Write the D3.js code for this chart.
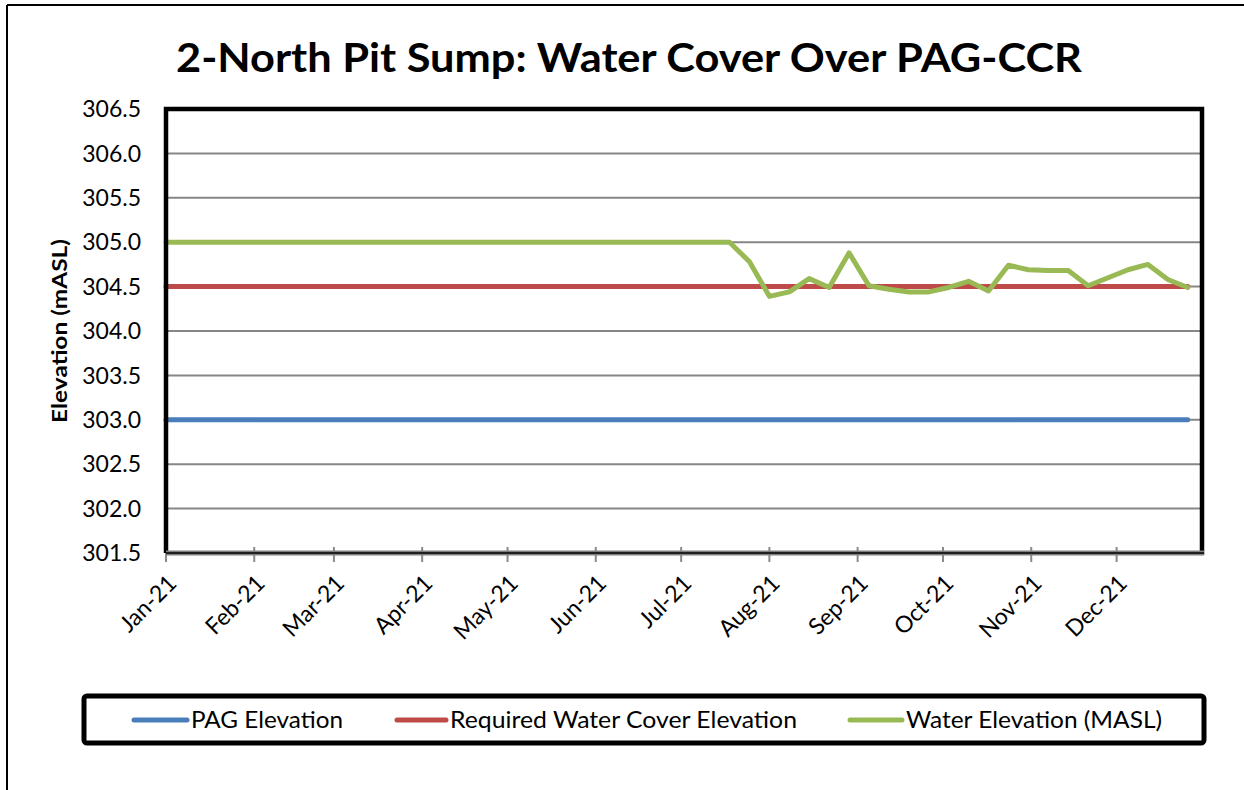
<!DOCTYPE html>
<html>
<head>
<meta charset="utf-8">
<script src="https://cdn.jsdelivr.net/npm/d3@7"></script>
<style>
  html, body { margin: 0; padding: 0; background: #fff; }
  svg { display: block; font-family: Lato, "Open Sans", sans-serif; }
</style>
</head>
<body>
<svg id="chart" width="1244" height="790"></svg>
<script>
// ---- data ----
const title = "2-North Pit Sump: Water Cover Over PAG-CCR";
const yAxisTitle = "Elevation (mASL)";
const yTicks = [301.5, 302.0, 302.5, 303.0, 303.5, 304.0, 304.5, 305.0, 305.5, 306.0, 306.5];
const monthTicks = ["2021-01-01","2021-02-01","2021-03-01","2021-04-01","2021-05-01","2021-06-01",
                    "2021-07-01","2021-08-01","2021-09-01","2021-10-01","2021-11-01","2021-12-01"];
const seriesNames = ["PAG Elevation", "Required Water Cover Elevation", "Water Elevation (MASL)"];
const pagDates = ["2021-01-01", "2021-12-26"];
const pagValues = [303.0, 303.0];
const reqDates = ["2021-01-01", "2021-12-26"];
const reqValues = [304.5, 304.5];
const waterDates = ["2021-01-01","2021-07-18","2021-07-25","2021-08-01","2021-08-08","2021-08-15",
  "2021-08-22","2021-08-29","2021-09-05","2021-09-12","2021-09-19","2021-09-26","2021-10-03",
  "2021-10-10","2021-10-17","2021-10-24","2021-10-31","2021-11-07","2021-11-14","2021-11-21",
  "2021-11-28","2021-12-05","2021-12-12","2021-12-19","2021-12-26"];
const waterValues = [305.0,305.0,304.78,304.39,304.44,304.59,
  304.49,304.88,304.51,304.47,304.44,304.44,304.49,
  304.56,304.45,304.74,304.69,304.68,304.68,304.51,
  304.60,304.69,304.75,304.58,304.49];
const colors = ["#4a7ebb", "#be4b48", "#98b954"];

// ---- layout ----
const svg = d3.select("#chart");
const parse = d3.timeParse("%Y-%m-%d");
const plot = {left: 166, right: 1202, top: 109, bottom: 553};

const x = d3.scaleTime()
  .domain([parse("2021-01-01"), parse("2021-12-31")])
  .range([plot.left, plot.right]);
const y = d3.scaleLinear()
  .domain([301.5, 306.5])
  .range([plot.bottom, plot.top]);

// outer chart border (top + left visible)
svg.append("line").attr("x1", 7).attr("y1", 5).attr("x2", 1244).attr("y2", 5)
  .attr("stroke", "#000").attr("stroke-width", 2);
svg.append("line").attr("x1", 7).attr("y1", 5).attr("x2", 7).attr("y2", 790)
  .attr("stroke", "#000").attr("stroke-width", 2);

// title
svg.append("text")
  .attr("x", 629).attr("y", 72)
  .attr("text-anchor", "middle")
  .attr("font-size", 40).attr("font-weight", "bold")
  .attr("textLength", 906).attr("lengthAdjust", "spacingAndGlyphs")
  .attr("fill", "#000")
  .text(title);

// gridlines
svg.append("g").selectAll("line")
  .data(yTicks.filter(v => v > 301.5 && v < 306.5))
  .join("line")
  .attr("x1", plot.left).attr("x2", plot.right)
  .attr("y1", d => y(d)).attr("y2", d => y(d))
  .attr("stroke", "#868686").attr("stroke-width", 2);

// y tick labels
svg.append("g").selectAll("text")
  .data(yTicks)
  .join("text")
  .attr("x", 141).attr("y", d => y(d))
  .attr("dy", "0.36em")
  .attr("text-anchor", "end")
  .attr("font-size", 23)
  .attr("fill", "#000")
  .text(d => d3.format(".1f")(d));

// y axis title
svg.append("text")
  .attr("transform", `translate(67, ${(plot.top + plot.bottom) / 2}) rotate(-90)`)
  .attr("text-anchor", "middle")
  .attr("font-size", 21).attr("font-weight", "bold")
  .attr("textLength", 184).attr("lengthAdjust", "spacingAndGlyphs")
  .attr("fill", "#000")
  .text(yAxisTitle);

// x ticks
const tickDates = monthTicks.map(parse);
svg.append("g").selectAll("line")
  .data(tickDates)
  .join("line")
  .attr("x1", d => x(d)).attr("x2", d => x(d))
  .attr("y1", plot.bottom - 6).attr("y2", plot.bottom + 9)
  .attr("stroke", "#8a8a8a").attr("stroke-width", 2);

// x tick labels
const fmt = d3.timeFormat("%b-%y");
svg.append("g").selectAll("text")
  .data(tickDates)
  .join("text")
  .attr("transform", d => `translate(${x(d) + 6}, ${plot.bottom + 26}) rotate(-45)`)
  .attr("text-anchor", "end")
  .attr("dy", "0.36em")
  .attr("font-size", 23)
  .attr("fill", "#000")
  .text(d => fmt(d));

// series lines
const line = d3.line().x(d => x(d[0])).y(d => y(d[1]));
const series = [
  pagDates.map((d, i) => [parse(d), pagValues[i]]),
  reqDates.map((d, i) => [parse(d), reqValues[i]]),
  waterDates.map((d, i) => [parse(d), waterValues[i]])
];
svg.append("g").selectAll("path")
  .data(series)
  .join("path")
  .attr("d", line)
  .attr("fill", "none")
  .attr("stroke", (d, i) => colors[i])
  .attr("stroke-width", 5)
  .attr("stroke-linejoin", "round")
  .attr("stroke-linecap", "round");

// plot frame: left, top, right in thick black; bottom as axis line
svg.append("path")
  .attr("d", `M${plot.left},${plot.bottom} L${plot.left},${plot.top} L${plot.right},${plot.top} L${plot.right},${plot.bottom + 2}`)
  .attr("fill", "none").attr("stroke", "#000").attr("stroke-width", 4.5);
svg.append("line")
  .attr("x1", plot.left).attr("x2", plot.right + 2)
  .attr("y1", plot.bottom).attr("y2", plot.bottom)
  .attr("stroke", "#7f7f7f").attr("stroke-width", 5);
svg.append("line")
  .attr("x1", plot.left).attr("x2", plot.right + 2)
  .attr("y1", plot.bottom).attr("y2", plot.bottom)
  .attr("stroke", "#000").attr("stroke-width", 1.5);

// legend
svg.append("rect")
  .attr("x", 84).attr("y", 696).attr("width", 1120).attr("height", 47)
  .attr("rx", 3)
  .attr("fill", "#fff").attr("stroke", "#000").attr("stroke-width", 5);
const legendItems = [
  {x1: 134, x2: 187, tx: 191, w: 152},
  {x1: 397, x2: 446, tx: 450, w: 347},
  {x1: 850, x2: 902, tx: 906, w: 256}
];
const lg = svg.append("g").selectAll("g")
  .data(seriesNames)
  .join("g");
lg.append("line")
  .attr("x1", (d, i) => legendItems[i].x1).attr("x2", (d, i) => legendItems[i].x2)
  .attr("y1", 720).attr("y2", 720)
  .attr("stroke", (d, i) => colors[i]).attr("stroke-width", 5)
  .attr("stroke-linecap", "round");
lg.append("text")
  .attr("x", (d, i) => legendItems[i].tx).attr("y", 720)
  .attr("dy", "0.36em")
  .attr("font-size", 23)
  .attr("textLength", (d, i) => legendItems[i].w).attr("lengthAdjust", "spacingAndGlyphs")
  .attr("fill", "#000")
  .text(d => d);
</script>
</body>
</html>
